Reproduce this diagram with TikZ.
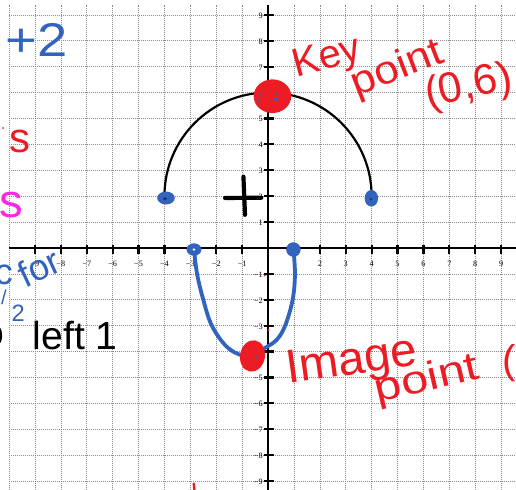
\documentclass[tikz,border=0pt]{standalone}
\usepackage{fontspec}
\setmainfont{Liberation Serif}
\newfontfamily\hand{Liberation Sans}
\usetikzlibrary{shapes.geometric}
\definecolor{penblue}{RGB}{50,100,190}
\definecolor{pendark}{RGB}{25,45,110}
\definecolor{penred}{RGB}{237,28,36}
\definecolor{penmagenta}{RGB}{250,40,230}
\definecolor{gridgray}{RGB}{140,140,140}
\newcommand{\mysign}{\char"2212\relax}
\begin{document}
\begin{tikzpicture}[
  gridline/.style={gridgray, line width=0.7pt, dash pattern=on 0.7pt off 1.5pt},
  axisline/.style={line width=2.8pt},
  tickline/.style={line width=2.4pt},
  ticklabel/.style={font=\fontsize{9}{10}\selectfont, inner sep=0pt},
  arcline/.style={line width=2.4pt},
  bluecurve/.style={penblue, line width=4.2pt, line cap=round, line join=round},
  blob/.style={ellipse, fill=penred, inner sep=0pt},
  bluedot/.style={ellipse, fill=penblue, inner sep=0pt},
  handtext/.style={inner sep=0pt, font={\hand\fontsize{#1}{#1}\selectfont}},
  plusmark/.style={line width=4.6pt, line cap=round},
]
\useasboundingbox (-10.35,-9.345) rectangle (9.575,9.575);
\clip (-10.35,-9.345) rectangle (9.575,9.575);
% grid
\foreach \x in {-10,...,9} \draw[gridline] (\x,-9.4) -- (\x,9.4);
\foreach \y in {-9,...,9} \draw[gridline] (-10,\y) -- (9.6,\y);
% axes
\draw[axisline] (-10,0) -- (9.6,0);
\draw[axisline] (0,9.4) -- (0,-9.4);
% ticks and labels
\foreach \x in {-9,...,-1,1,2,...,9} {
  \pgfmathtruncatemacro\ax{abs(\x)}
  \draw[tickline] (\x,0.13) -- (\x,-0.25);
  \node[ticklabel] (xl\ax\x) at (\x,-0.6) {\ifnum\x<0 \mysign\fi\ax};
}
\foreach \y in {-9,...,-1,1,2,...,9} {
  \pgfmathtruncatemacro\ay{abs(\y)}
  \draw[tickline] (-0.17,\y) -- (0.22,\y);
  \node[ticklabel, anchor=east] (yl\ay\y) at (-0.2,\y-0.03) {\ifnum\y<0 \mysign\fi\ay};
}
% black semicircle
\coordinate (arcL) at (-4,2);
\draw[arcline] (arcL) arc[start angle=180, end angle=0, radius=4] coordinate (arcR);
% blue image curve
\draw[bluecurve] plot[smooth, tension=0.6] coordinates {(-2.86,-0.05) (-2.74,-1) (-2.5,-2) (-2.17,-3) (-1.6,-3.81) (-1.0,-4.15) (-0.55,-4.12) (-0.15,-3.88) (0.33,-3.55) (0.66,-3) (0.95,-2) (1.04,-1) (0.98,-0.05)};
% blue dots
\node[bluedot, minimum width=0.68cm, minimum height=0.5cm] (dA) at (-3.94,1.93) {};
\fill[pendark] (-3.98,1.9) circle (0.07);
\node[bluedot, minimum width=0.52cm, minimum height=0.64cm] (dB) at (3.99,1.92) {};
\fill[pendark] (3.97,1.88) circle (0.05);
\node[bluedot, minimum width=0.58cm, minimum height=0.48cm] (dC) at (-2.86,-0.06) {};
\fill[white] (-2.86,-0.06) circle (0.05);
\node[bluedot, minimum size=0.56cm] (dD) at (0.98,-0.06) {};
% red blobs
\node[blob, minimum width=1.45cm, minimum height=1.3cm] (keyblob) at (0.17,5.86) {};
\draw[penblue, line width=0.8pt, line cap=round] (-0.39,5.64) -- (-0.23,6.06);
\draw[penblue, line width=0.8pt, line cap=round] (0.23,5.71) -- (0.35,5.98);
\fill[penblue] (0.32,5.74) circle (0.07);
\node[blob, minimum width=0.96cm, minimum height=1.22cm, rotate=-10] (imgblob) at (-0.6,-4.17) {};
\fill[penblue] (-0.45,-4.2) circle (0.04);
% plus mark
\draw[plusmark] (-1.66,1.93) -- (-0.26,1.94);
\draw[plusmark] (-0.95,2.75) -- (-0.89,1.28);
% red annotations
\node[handtext=44, text=penred, rotate=15] (key) at (2.28,7.3) {Key};
\node[handtext=44, text=penred, rotate=21] (keypoint) at (5.0,6.9) {\scalebox{1.1}[1]{point}};
\node[handtext=47, text=penred, rotate=12] (keycoord) at (7.75,6.2) {(0,6)};
\node[handtext=52, text=penred, rotate=8] (image) at (3.24,-4.44) {Image};
\node[handtext=44, text=penred, rotate=13] (imgpoint) at (6.14,-5.12) {\scalebox{1.22}[1]{point}};
\node[handtext=44, text=penred, anchor=west] (imgparen) at (9.05,-4.45) {(};
\node[handtext=46, text=penred] (sred) at (-9.58,4.13) {s};
\fill[penred] (-10.23,4.63) circle (0.04);
\fill[penred] (-0.12,-1.06) circle (0.04);
\fill[penred] (0.02,-3.17) circle (0.04);
\draw[penred, line width=2.6pt] (-2.87,-9.07) -- (-2.84,-9.4);
% magenta
\node[handtext=52, text=penmagenta] (smag) at (-9.92,1.66) {s};
% blue annotations
\node[handtext=52, text=penblue] (plustwo) at (-8.94,8.05) {\scalebox{1.15}[1]{+2}};
\node[handtext=40, text=penblue, rotate=25] (forword) at (-8.85,-0.75) {for};
\node[handtext=40, text=penblue, anchor=east] (cfrag) at (-9.85,-1.05) {c};
\node[handtext=22, text=penblue] (slash) at (-10.2,-1.9) {/};
\node[handtext=26, text=penblue] (two) at (-9.65,-2.51) {2};
% black annotations
\node[handtext=43] (left) at (-7.45,-3.38) {left 1};
\node[handtext=43, anchor=east] (ofrag) at (-10.16,-3.4) {o};
\end{tikzpicture}
\end{document}
